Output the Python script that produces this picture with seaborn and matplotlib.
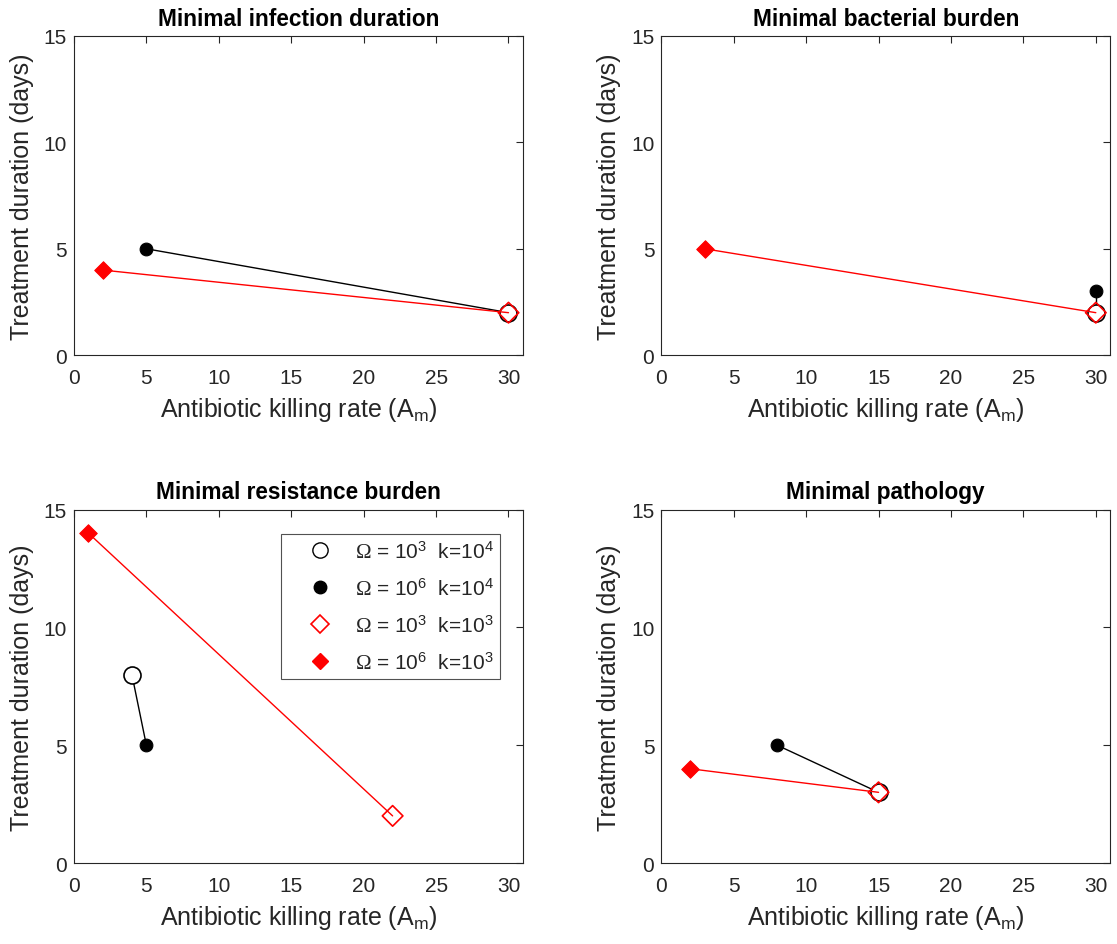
import matplotlib
matplotlib.use("Agg")
import matplotlib.pyplot as plt
import seaborn as sns
import pandas as pd
from matplotlib.lines import Line2D

sns.set_theme(style="white")
plt.rcParams['font.family'] = ['Liberation Sans', 'DejaVu Sans']
plt.rcParams['mathtext.fontset'] = 'custom'
plt.rcParams['mathtext.rm'] = 'Liberation Serif'
plt.rcParams['mathtext.sf'] = 'Liberation Sans'
plt.rcParams['mathtext.it'] = 'Liberation Sans:italic'

titles = ["Minimal infection duration", "Minimal bacterial burden",
          "Minimal resistance burden", "Minimal pathology"]

# per panel: (Am, days) for each series
# series: open circle (Omega=1e3,k=1e4), filled circle (Omega=1e6,k=1e4),
#         open diamond (Omega=1e3,k=1e3), filled diamond (Omega=1e6,k=1e3)
open_circle_x = [30, 30, 4, 15]
open_circle_y = [2, 2, 8, 3]
filled_circle_x = [5, 30, 5, 8]
filled_circle_y = [5, 3, 5, 5]
open_diamond_x = [30, 30, 22, 15]
open_diamond_y = [2, 2, 2, 3]
filled_diamond_x = [2, 3, 1, 2]
filled_diamond_y = [4, 5, 14, 4]

legend_labels = [r'$\Omega$ = 10$^{\mathsf{3}}$  k=10$^{\mathsf{4}}$',
                 r'$\Omega$ = 10$^{\mathsf{6}}$  k=10$^{\mathsf{4}}$',
                 r'$\Omega$ = 10$^{\mathsf{3}}$  k=10$^{\mathsf{3}}$',
                 r'$\Omega$ = 10$^{\mathsf{6}}$  k=10$^{\mathsf{3}}$']

xticks = [0, 5, 10, 15, 20, 25, 30]
yticks = [0, 5, 10, 15]

fig = plt.figure(figsize=(11.17, 9.45), dpi=100)
positions = [
    [0.0662, 0.623, 0.402, 0.338],
    [0.592, 0.623, 0.402, 0.338],
    [0.0662, 0.0857, 0.402, 0.374],
    [0.592, 0.0857, 0.402, 0.374],
]
dark = '#262626'

for i in range(4):
    ax = fig.add_axes(positions[i])
    black = pd.DataFrame({'x': [filled_circle_x[i], open_circle_x[i]],
                          'y': [filled_circle_y[i], open_circle_y[i]]})
    red = pd.DataFrame({'x': [filled_diamond_x[i], open_diamond_x[i]],
                        'y': [filled_diamond_y[i], open_diamond_y[i]]})
    sns.lineplot(data=black, x='x', y='y', sort=False, estimator=None,
                 color='black', lw=1, ax=ax, zorder=2)
    sns.scatterplot(x=[open_circle_x[i]], y=[open_circle_y[i]], marker='o', s=150,
                    facecolor='white', edgecolor='black', linewidth=1.2, ax=ax, zorder=3)
    sns.scatterplot(x=[filled_circle_x[i]], y=[filled_circle_y[i]], marker='o', s=85,
                    color='black', edgecolor='black', ax=ax, zorder=3)
    sns.lineplot(data=red, x='x', y='y', sort=False, estimator=None,
                 color='red', lw=1, ax=ax, zorder=4)
    sns.scatterplot(x=[open_diamond_x[i]], y=[open_diamond_y[i]], marker='D', s=110,
                    facecolor='none', edgecolor='red', linewidth=1.2, ax=ax, zorder=5)
    sns.scatterplot(x=[filled_diamond_x[i]], y=[filled_diamond_y[i]], marker='D', s=80,
                    color='red', edgecolor='red', ax=ax, zorder=5)
    ax.set_xlim(0, 31)
    ax.set_ylim(0, 15)
    ax.set_xticks(xticks)
    ax.set_yticks(yticks)
    ax.tick_params(direction='in', top=True, right=True, labelsize=15,
                   length=5, width=0.8, colors=dark)
    ax.tick_params(axis='x', pad=9)
    ax.tick_params(axis='y', pad=5)
    for sp in ax.spines.values():
        sp.set_color(dark)
        sp.set_linewidth(0.8)
    ax.set_xlabel(r'Antibiotic killing rate (A$_{\mathsf{m}}$)', fontsize=18, color=dark,
                  labelpad=6)
    ax.set_ylabel('Treatment duration (days)', fontsize=18, color=dark, labelpad=7)
    ax.set_title(titles[i], fontsize=16.3, fontweight='bold', pad=8, color='black')

    if i == 2:
        handles = [
            Line2D([], [], ls='none', marker='o', ms=11, mfc='white', mec='black'),
            Line2D([], [], ls='none', marker='o', ms=9, mfc='black', mec='black'),
            Line2D([], [], ls='none', marker='D', ms=9, mfc='none', mec='red', mew=1.2),
            Line2D([], [], ls='none', marker='D', ms=8, mfc='red', mec='red'),
        ]
        leg = ax.legend(handles, legend_labels, loc='upper right',
                        bbox_to_anchor=(0.949, 0.932), borderaxespad=0, fontsize=15,
                        frameon=True, fancybox=False, edgecolor=dark, handletextpad=0.15,
                        labelspacing=0.72, borderpad=0.3, handlelength=3.1)
        leg.get_frame().set_linewidth(0.8)

fig.savefig('out.png', dpi=100)
